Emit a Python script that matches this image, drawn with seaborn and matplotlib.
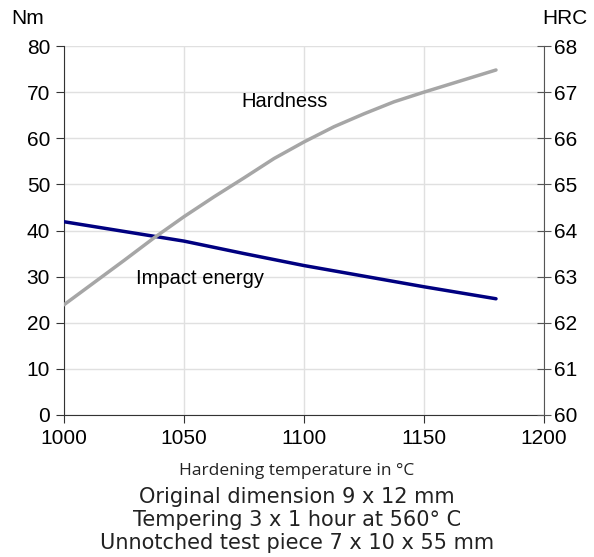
import matplotlib
matplotlib.use("Agg")
import matplotlib.pyplot as plt
import seaborn as sns
import pandas as pd

# Data
temp_impact = [1000, 1025, 1050, 1075, 1100, 1125, 1150, 1180]
impact_energy = [41.9, 39.8, 37.7, 35.0, 32.4, 30.1, 27.8, 25.2]

temp_hard = [1000, 1012.5, 1025, 1037.5, 1050, 1062.5, 1075, 1087.5,
             1100, 1112.5, 1125, 1137.5, 1150, 1165, 1180]
hardness_hrc = [62.39, 62.87, 63.35, 63.84, 64.30, 64.73, 65.14, 65.56,
                65.92, 66.25, 66.53, 66.79, 67.00, 67.24, 67.48]

left_ticks = [0, 10, 20, 30, 40, 50, 60, 70, 80]
right_ticks = [60, 61, 62, 63, 64, 65, 66, 67, 68]
x_ticks = [1000, 1050, 1100, 1150, 1200]

sns.set_style("white")
plt.rcParams['font.family'] = ['Liberation Sans', 'DejaVu Sans']
plt.rcParams['text.color'] = 'black'
plt.rcParams['xtick.labelcolor'] = 'black'
plt.rcParams['ytick.labelcolor'] = 'black'

fig = plt.figure(figsize=(5.94, 5.57), dpi=100)
ax = fig.add_axes([64/594, 1-415/557, 480/594, 369/557])
ax2 = ax.twinx()

df_i = pd.DataFrame({"T": temp_impact, "E": impact_energy})
df_h = pd.DataFrame({"T": temp_hard, "H": hardness_hrc})

sns.lineplot(data=df_i, x="T", y="E", ax=ax, color="#000080", linewidth=2.5, zorder=3,
             solid_joinstyle='round', solid_capstyle='round')
sns.lineplot(data=df_h, x="T", y="H", ax=ax2, color="#a6a6a6", linewidth=2.5, zorder=3,
             solid_joinstyle='round', solid_capstyle='round')

ax.set_xlim(1000, 1200)
ax.set_ylim(0, 80)
ax2.set_ylim(60, 68)
ax.set_xticks(x_ticks)
ax.set_yticks(left_ticks)
ax2.set_yticks(right_ticks)

ax.grid(True, color="#e0e0e0", linewidth=1)
ax2.grid(False)
ax.set_axisbelow(True)

for a in (ax, ax2):
    for s in a.spines.values():
        s.set_visible(False)
ax.spines['left'].set_visible(True)
ax.spines['left'].set_color("#333333")
ax.spines['bottom'].set_visible(True)
ax.spines['bottom'].set_color("#333333")
ax2.spines['right'].set_visible(True)
ax2.spines['right'].set_color("#555555")

ax.tick_params(axis='y', direction='out', length=6, labelsize=15, color="#333333", pad=4, left=True)
ax.tick_params(axis='x', direction='out', length=6, labelsize=15, color="#333333", pad=4, bottom=True)
ax2.tick_params(axis='y', direction='inout', length=10, labelsize=15, color="#555555", pad=2, right=True)

ax.set_xlabel("")
ax.set_ylabel("")
ax2.set_ylabel("")

ax.text(1092, 68, "Hardness", fontsize=14.5, ha='center', va='center')
ax.text(1056.7, 29.7, "Impact energy", fontsize=14.5, ha='center', va='center')

fig.text(28/594, 1-18/557, "Nm", fontsize=15, ha='center', va='center')
fig.text(565/594, 1-18/557, "HRC", fontsize=15, ha='center', va='center')

fig.text(0.5, 1-471/557, "Hardening temperature in °C", fontsize=12.5,
         ha='center', va='center', family=['Open Sans', 'DejaVu Sans'], color="#222222")
foot = ["Original dimension 9 x 12 mm",
        "Tempering 3 x 1 hour at 560° C",
        "Unnotched test piece 7 x 10 x 55 mm"]
for y, line in zip([497, 520, 543], foot):
    fig.text(0.5, 1-y/557, line, fontsize=15, ha='center', va='center',
             family=['DejaVu Sans'], color="#222222")

fig.savefig("out.png", dpi=100)
